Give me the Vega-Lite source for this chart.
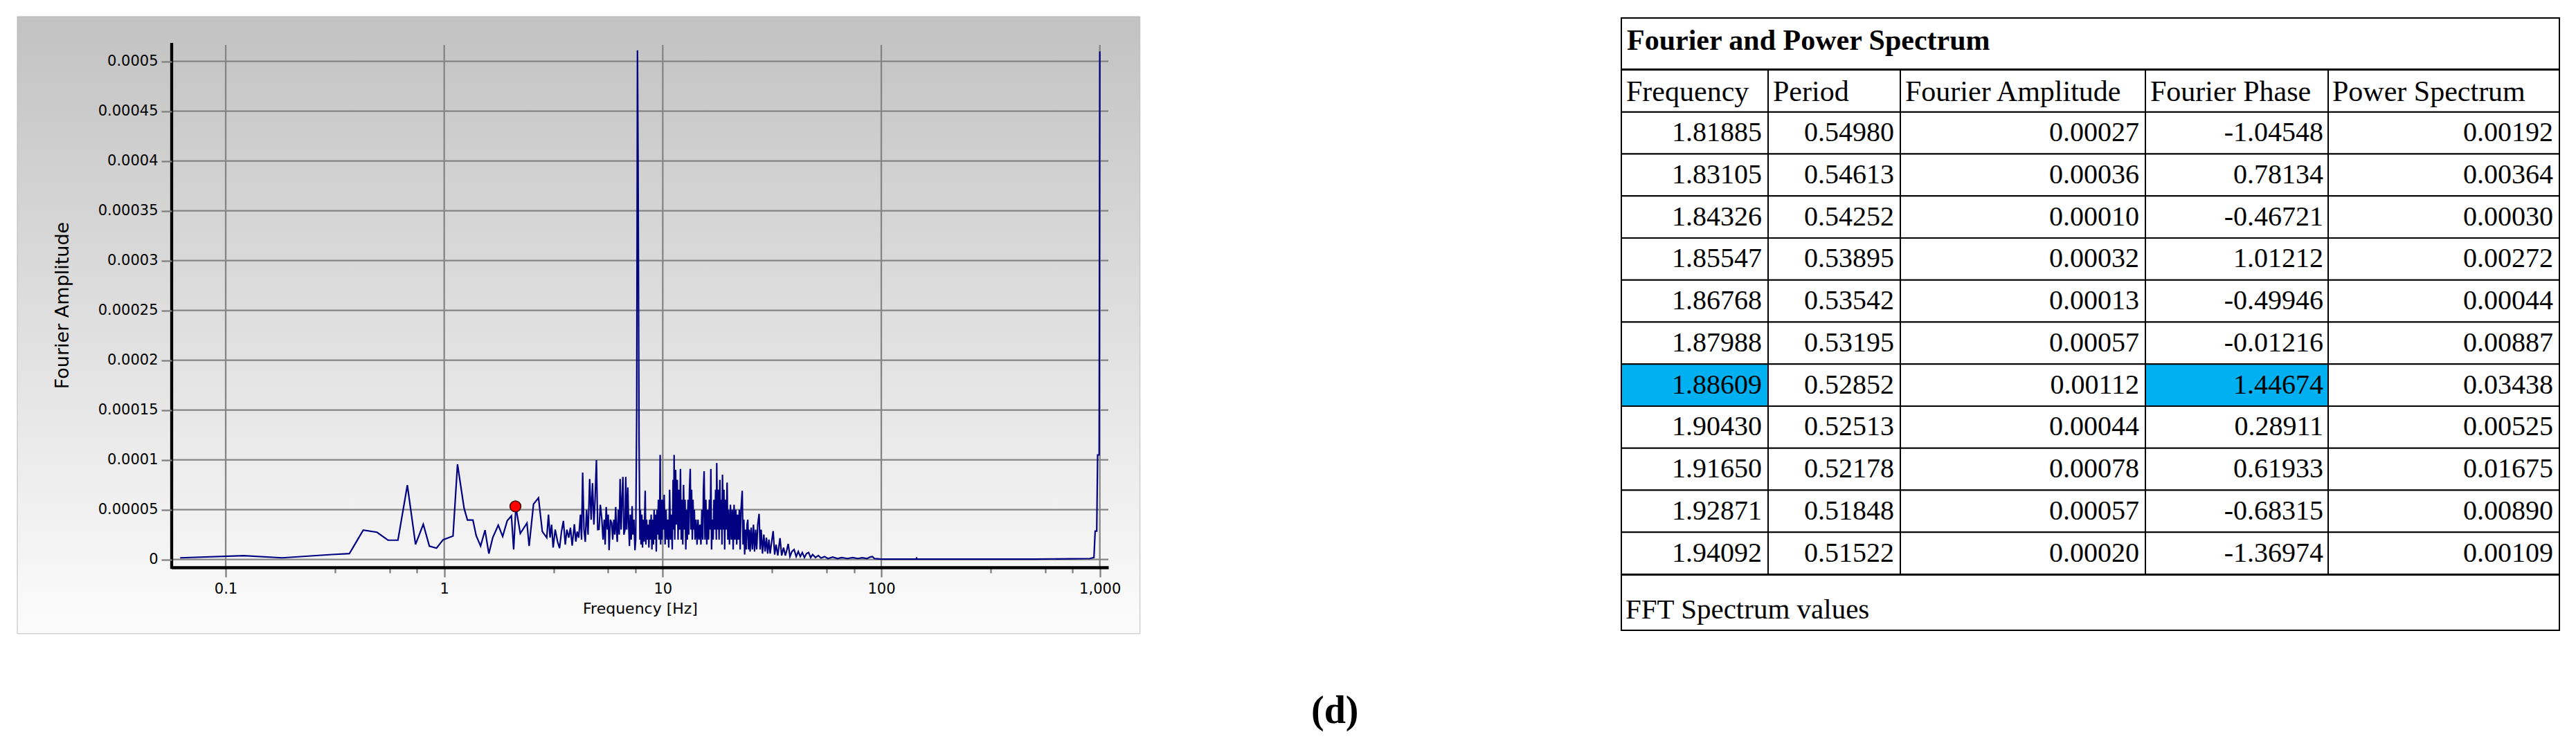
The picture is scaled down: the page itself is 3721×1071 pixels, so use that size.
{
  "$schema": "https://vega.github.io/schema/vega-lite/v6.json",
  "padding": {"left": 24, "top": 23, "right": 5, "bottom": 5},
  "background": "white",
  "config": {"view": {"stroke": null}, "locale": {"number": {"decimal": ".", "thousands": ",", "grouping": [3], "currency": ["$", ""], "minus": "-"}}},
  "title": {"text": "(d)", "orient": "bottom", "anchor": "middle", "font": "Liberation Serif", "fontSize": 56, "fontWeight": "bold", "color": "black", "offset": 85, "dx": 67},
  "datasets": {
    "spec": [
      {"f":0.0619,"a":0.0000017},{"f":0.121,"a":0.0000038},{"f":0.181,"a":0.0000017},{"f":0.306,"a":0.000005},{"f":0.368,"a":0.0000059},
      {"f":0.426,"a":0.0000295},{"f":0.492,"a":0.0000274},{"f":0.553,"a":0.0000194},{"f":0.614,"a":0.0000194},{"f":0.678,"a":0.0000746},
      {"f":0.739,"a":0.0000152},{"f":0.802,"a":0.0000354},{"f":0.855,"a":0.0000135},{"f":0.922,"a":0.0000114},{"f":0.988,"a":0.0000198},
      {"f":1.097,"a":0.0000236},{"f":1.15,"a":0.0000956},{"f":1.233,"a":0.0000514},{"f":1.277,"a":0.0000396},{"f":1.353,"a":0.0000396},
      {"f":1.40,"a":0.000024},{"f":1.467,"a":0.0000135},{"f":1.537,"a":0.0000295},{"f":1.60,"a":0.0000059},{"f":1.667,"a":0.0000219},
      {"f":1.767,"a":0.0000345},{"f":1.851,"a":0.0000232},{"f":1.941,"a":0.0000388},{"f":2.03,"a":0.0000438},{"f":2.078,"a":0.0000101},
      {"f":2.127,"a":0.0000527},{"f":2.229,"a":0.0000261},{"f":2.391,"a":0.0000366},{"f":2.446,"a":0.0000135},{"f":2.562,"a":0.0000556},
      {"f":2.70,"a":0.0000619},{"f":2.81,"a":0.0000282},{"f":2.945,"a":0.0000219},
      {"f":3.00,"a":0.000045},{"f":3.05,"a":0.000022},{"f":3.10,"a":0.000035},{"f":3.15,"a":0.000012},{"f":3.22,"a":0.00003},
      {"f":3.30,"a":0.000018},{"f":3.37,"a":0.0000114},{"f":3.44,"a":0.000028},{"f":3.51,"a":0.0000388},{"f":3.58,"a":0.000015},
      {"f":3.64,"a":0.00003},{"f":3.715,"a":0.0000219},{"f":3.78,"a":0.000032},{"f":3.85,"a":0.000014},{"f":3.94,"a":0.0000354},
      {"f":4.00,"a":0.000018},{"f":4.06,"a":0.000028},{"f":4.125,"a":0.0000219},{"f":4.20,"a":0.000045},{"f":4.25,"a":0.00002},
      {"f":4.30,"a":0.0000872},{"f":4.36,"a":0.00003},{"f":4.42,"a":0.0000177},{"f":4.48,"a":0.00005},{"f":4.55,"a":0.000025},
      {"f":4.63,"a":0.0000809},{"f":4.70,"a":0.00004},{"f":4.77,"a":0.0000767},{"f":4.84,"a":0.000035},{"f":4.90,"a":0.00006},
      {"f":4.97,"a":0.0000998},{"f":5.04,"a":0.00003},{"f":5.11,"a":0.0000303},{"f":5.18,"a":0.000055},{"f":5.26,"a":0.0000409},
      {"f":5.33,"a":0.00002},{"f":5.40,"a":0.00004},{"f":5.45,"a":0.000015},{"f":5.51,"a":0.0000527},{"f":5.58,"a":0.00003},
      {"f":5.63,"a":0.000045},{"f":5.68,"a":0.0000093},{"f":5.76,"a":0.00004},{"f":5.84,"a":0.0000366},{"f":5.90,"a":0.00002},
      {"f":5.97,"a":0.00004},{"f":6.03,"a":0.000025},{"f":6.09,"a":0.0000527},{"f":6.14,"a":0.00003},{"f":6.19,"a":0.0000177},
      {"f":6.26,"a":0.00005},{"f":6.32,"a":0.000025},{"f":6.38,"a":0.0000809},{"f":6.45,"a":0.00003},{"f":6.51,"a":0.00006},
      {"f":6.57,"a":0.000083},{"f":6.64,"a":0.000025},{"f":6.72,"a":0.0000303},{"f":6.77,"a":0.0000829},{"f":6.84,"a":0.00003},
      {"f":6.92,"a":0.0000724},{"f":6.98,"a":0.000035},{"f":7.04,"a":0.0000135},{"f":7.10,"a":0.000045},{"f":7.17,"a":0.00002},
      {"f":7.24,"a":0.0000535},{"f":7.30,"a":0.000025},{"f":7.38,"a":0.00004},{"f":7.46,"a":0.0000093},{"f":7.52,"a":0.00002},
      {"f":7.60,"a":0.00015},{"f":7.66,"a":0.000511},{"f":7.71,"a":0.0004},{"f":7.79,"a":0.00012},{"f":7.86,"a":0.00002},
      {"f":7.90,"a":0.00005},{"f":7.95,"a":0.000015},{"f":8.02,"a":0.000045},{"f":8.08,"a":0.000012},{"f":8.15,"a":0.00004},
      {"f":8.22,"a":0.000018},{"f":8.31,"a":0.000069},{"f":8.37,"a":0.000015},{"f":8.44,"a":0.00004},{"f":8.50,"a":0.00002},
      {"f":8.57,"a":0.000035},{"f":8.64,"a":0.000012},{"f":8.71,"a":0.00004},{"f":8.78,"a":0.00002},{"f":8.85,"a":0.000045},
      {"f":8.92,"a":0.00001},{"f":8.99,"a":0.00004},{"f":9.06,"a":0.000015},{"f":9.13,"a":0.00005},{"f":9.20,"a":0.00002},
      {"f":9.27,"a":0.000045},{"f":9.34,"a":0.000008},{"f":9.41,"a":0.00005},{"f":9.48,"a":0.000025},{"f":9.55,"a":0.00006},
      {"f":9.62,"a":0.00002},{"f":9.69,"a":0.00006},{"f":9.73,"a":0.000105},{"f":9.78,"a":0.000015},{"f":9.85,"a":0.00006},
      {"f":9.92,"a":0.00002},{"f":9.98,"a":0.00006},
      {"f":10.05,"a":0.00003},{"f":10.15,"a":0.000065},{"f":10.25,"a":0.000015},{"f":10.35,"a":0.00005},{"f":10.45,"a":0.00002},
      {"f":10.55,"a":0.00004},{"f":10.65,"a":0.000012},{"f":10.75,"a":0.00007},{"f":10.85,"a":0.00002},{"f":10.95,"a":0.000045},
      {"f":11.05,"a":0.00001},{"f":11.15,"a":0.00008},{"f":11.22,"a":0.00003},{"f":11.27,"a":0.000105},{"f":11.35,"a":0.00002},
      {"f":11.45,"a":0.00009},{"f":11.55,"a":0.000035},{"f":11.65,"a":0.00008},{"f":11.75,"a":0.00002},{"f":11.85,"a":0.00007},
      {"f":11.95,"a":0.00003},{"f":12.05,"a":0.000091},{"f":12.15,"a":0.00002},{"f":12.25,"a":0.00006},{"f":12.35,"a":0.000015},
      {"f":12.45,"a":0.000075},{"f":12.55,"a":0.00003},{"f":12.65,"a":0.00006},{"f":12.75,"a":0.00001},{"f":12.85,"a":0.00005},
      {"f":12.95,"a":0.00002},{"f":13.05,"a":0.00006},{"f":13.15,"a":0.000025},{"f":13.25,"a":0.00007},{"f":13.36,"a":0.000091},
      {"f":13.45,"a":0.00003},{"f":13.55,"a":0.00007},{"f":13.65,"a":0.00002},{"f":13.75,"a":0.00006},{"f":13.85,"a":0.00003},
      {"f":13.95,"a":0.00005},{"f":14.05,"a":0.00002},{"f":14.20,"a":0.00004},{"f":14.35,"a":0.000015},{"f":14.50,"a":0.00004},
      {"f":14.65,"a":0.00002},{"f":14.80,"a":0.000035},{"f":14.95,"a":0.000015},{"f":15.10,"a":0.00005},{"f":15.25,"a":0.00002},
      {"f":15.35,"a":0.00007},{"f":15.46,"a":0.0000887},{"f":15.60,"a":0.00002},{"f":15.75,"a":0.00006},{"f":15.90,"a":0.000015},
      {"f":16.05,"a":0.00005},{"f":16.20,"a":0.00002},{"f":16.35,"a":0.00006},{"f":16.50,"a":0.00003},{"f":16.60,"a":0.000091},
      {"f":16.72,"a":0.00001},{"f":16.85,"a":0.00004},{"f":17.00,"a":0.00002},{"f":17.15,"a":0.00006},{"f":17.30,"a":0.00003},
      {"f":17.45,"a":0.00007},{"f":17.58,"a":0.00002},{"f":17.66,"a":0.0000968},{"f":17.80,"a":0.00003},{"f":17.95,"a":0.00007},
      {"f":18.10,"a":0.00002},{"f":18.25,"a":0.00008},{"f":18.40,"a":0.00003},{"f":18.55,"a":0.00006},{"f":18.66,"a":0.000015},
      {"f":18.76,"a":0.0000852},{"f":18.90,"a":0.00003},{"f":19.05,"a":0.00007},{"f":19.20,"a":0.00001},{"f":19.35,"a":0.00006},
      {"f":19.50,"a":0.00003},{"f":19.70,"a":0.0000772},{"f":19.85,"a":0.00002},
      {"f":20.0,"a":0.00005},{"f":20.2,"a":0.000015},{"f":20.4,"a":0.000055},{"f":20.6,"a":0.00002},{"f":20.8,"a":0.00005},
      {"f":21.0,"a":0.00001},{"f":21.2,"a":0.000055},{"f":21.4,"a":0.00002},{"f":21.6,"a":0.00005},{"f":21.8,"a":0.000015},
      {"f":22.0,"a":0.000045},{"f":22.2,"a":0.00002},{"f":22.4,"a":0.00005},{"f":22.6,"a":0.00001},{"f":22.8,"a":0.00005},
      {"f":23.1,"a":0.000069},{"f":23.3,"a":0.000015},{"f":23.5,"a":0.00004},{"f":23.7,"a":0.000005},{"f":23.9,"a":0.00003},
      {"f":24.1,"a":0.00001},{"f":24.3,"a":0.000035},{"f":24.5,"a":0.00004},{"f":24.7,"a":0.00001},{"f":24.9,"a":0.00003},
      {"f":25.1,"a":0.000008},{"f":25.4,"a":0.000032},{"f":25.7,"a":0.00001},{"f":26.0,"a":0.000035},{"f":26.3,"a":0.000008},
      {"f":26.6,"a":0.00003},{"f":26.9,"a":0.00001},{"f":27.2,"a":0.000035},{"f":27.6,"a":0.0000458},{"f":27.9,"a":0.00001},
      {"f":28.2,"a":0.00003},{"f":28.6,"a":0.000006},{"f":29.0,"a":0.000025},{"f":29.4,"a":0.000008},{"f":29.8,"a":0.000022},
      {"f":30.2,"a":0.000006},{"f":30.6,"a":0.00002},{"f":31.0,"a":0.000006},{"f":31.5,"a":0.000018},{"f":32.0,"a":0.0000285},
      {"f":32.5,"a":0.000005},{"f":33.0,"a":0.000015},{"f":33.6,"a":0.000004},{"f":34.4,"a":0.0000215},{"f":35.0,"a":0.000004},
      {"f":35.7,"a":0.000012},{"f":36.4,"a":0.000004},{"f":37.0,"a":0.00001},{"f":37.5,"a":0.0000157},{"f":38.2,"a":0.000003},
      {"f":39.0,"a":0.000008},{"f":39.9,"a":0.00001},{"f":40.8,"a":0.000003},{"f":41.7,"a":0.000008},{"f":42.6,"a":0.000003},
      {"f":43.5,"a":0.000007},{"f":44.5,"a":0.000002},{"f":45.5,"a":0.000006},{"f":46.5,"a":0.000007},{"f":47.5,"a":0.000002},
      {"f":48.5,"a":0.000005},{"f":50,"a":0.000002},{"f":51.5,"a":0.000004},{"f":53,"a":0.0000015},{"f":55,"a":0.000003},
      {"f":57,"a":0.000001},{"f":60,"a":0.0000025},{"f":63,"a":0.000001},{"f":66,"a":0.000002},{"f":70,"a":0.000001},
      {"f":74,"a":0.000002},{"f":78,"a":0.000001},{"f":82,"a":0.0000018},{"f":86,"a":0.000001},{"f":89,"a":0.0000025},
      {"f":91,"a":0.000003},{"f":93,"a":0.000001},{"f":96,"a":0.0000008},{"f":100,"a":0.0000004},
      {"f":144,"a":0.0000004},{"f":145,"a":0.0000015},{"f":146,"a":0.0000004},{"f":500,"a":0.0000004},
      {"f":900,"a":0.000001},{"f":940,"a":0.000002},{"f":952,"a":0.0000285},{"f":968,"a":0.0000285},{"f":977,"a":0.000105},
      {"f":993,"a":0.000105},{"f":1000,"a":0.00051}
    ],
    "tbl": [
      {"Frequency":1.81885,"Period":0.5498,"Amplitude":0.00027,"Phase":-1.04548,"Power":0.00192},
      {"Frequency":1.83105,"Period":0.54613,"Amplitude":0.00036,"Phase":0.78134,"Power":0.00364},
      {"Frequency":1.84326,"Period":0.54252,"Amplitude":0.0001,"Phase":-0.46721,"Power":0.0003},
      {"Frequency":1.85547,"Period":0.53895,"Amplitude":0.00032,"Phase":1.01212,"Power":0.00272},
      {"Frequency":1.86768,"Period":0.53542,"Amplitude":0.00013,"Phase":-0.49946,"Power":0.00044},
      {"Frequency":1.87988,"Period":0.53195,"Amplitude":0.00057,"Phase":-0.01216,"Power":0.00887},
      {"Frequency":1.88609,"Period":0.52852,"Amplitude":0.00112,"Phase":1.44674,"Power":0.03438},
      {"Frequency":1.9043,"Period":0.52513,"Amplitude":0.00044,"Phase":0.28911,"Power":0.00525},
      {"Frequency":1.9165,"Period":0.52178,"Amplitude":0.00078,"Phase":0.61933,"Power":0.01675},
      {"Frequency":1.92871,"Period":0.51848,"Amplitude":0.00057,"Phase":-0.68315,"Power":0.0089},
      {"Frequency":1.94092,"Period":0.51522,"Amplitude":0.0002,"Phase":-1.36974,"Power":0.00109}
    ]
  },
  "hconcat": [
    {
      "width": 1353,
      "height": 794,
      "layer": [
        {
          "data": {"values": [{}]},
          "mark": {"type": "rect", "clip": false, "stroke": "#bcbcbc", "strokeWidth": 1,
            "fill": {"gradient": "linear", "x1": 0, "y1": 0, "x2": 0, "y2": 1, "stops": [{"offset": 0, "color": "#c2c2c2"}, {"offset": 1, "color": "#fcfcfc"}]}},
          "encoding": {
            "x": {"datum": 0.011126, "type": "quantitative", "scale": {"type": "log", "domain": [0.0566, 1094], "nice": false},
              "axis": {"title": "Frequency [Hz]", "zindex": 1,
                "values": [0.1,0.3162,0.5623,0.7499,1,3.162,5.623,7.499,10,31.62,56.23,74.99,100,316.2,562.3,749.9,1000],
                "labelExpr": "indexof([0.1,1,10,100,1000], datum.value) >= 0 ? format(datum.value, ',~g') : ''",
                "grid": false, "domain": true, "domainColor": "black", "domainWidth": 4.3,
                "tickColor": "#808080", "tickWidth": 2.3,
                "tickSize": {"condition": {"test": "indexof([0.1,1,10,100,1000], datum.value) >= 0", "value": 14}, "value": 8},
                "labelFont": "DejaVu Sans", "labelFontSize": 21, "labelColor": "black", "labelPadding": 6,
                "labelOverlap": false, "labelFlush": false, "labelBound": false,
                "titleFont": "DejaVu Sans", "titleFontSize": 22, "titleFontWeight": "normal", "titleColor": "black", "titlePadding": 8}},
            "x2": {"datum": 1527},
            "y": {"datum": 0.0005449, "type": "quantitative", "scale": {"domain": [-0.00000785, 0.0005435], "nice": false, "zero": false},
              "axis": {"title": "Fourier Amplitude", "zindex": 1,
                "values": [0,0.0000125,0.000025,0.0000375,0.00005,0.0000625,0.000075,0.0000875,0.0001,0.0001125,0.000125,0.0001375,0.00015,0.0001625,0.000175,0.0001875,0.0002,0.0002125,0.000225,0.0002375,0.00025,0.0002625,0.000275,0.0002875,0.0003,0.0003125,0.000325,0.0003375,0.00035,0.0003625,0.000375,0.0003875,0.0004,0.0004125,0.000425,0.0004375,0.00045,0.0004625,0.000475,0.0004875,0.0005,0.0005125],
                "labelExpr": "abs(datum.value/0.00005 - round(datum.value/0.00005)) < 0.001 ? format(datum.value, '.5~f') : ''",
                "grid": false, "domain": false,
                "tickColor": "#808080", "tickWidth": 2.3,
                "tickSize": {"condition": {"test": "abs(datum.value/0.00005 - round(datum.value/0.00005)) < 0.001", "value": 15}, "value": 8},
                "labelFont": "DejaVu Sans", "labelFontSize": 21, "labelColor": "black", "labelPadding": 5,
                "labelOverlap": false, "labelFlush": false, "labelBound": false,
                "titleFont": "DejaVu Sans", "titleFontSize": 27, "titleFontWeight": "normal", "titleColor": "black",
                "titleX": -158, "titleY": 415, "titleBaseline": "middle", "titleAngle": 270}},
            "y2": {"datum": -0.00007444}
          }
        },
        {
          "data": {"values": [{"v":0},{"v":0.00005},{"v":0.0001},{"v":0.00015},{"v":0.0002},{"v":0.00025},{"v":0.0003},{"v":0.00035},{"v":0.0004},{"v":0.00045},{"v":0.0005}]},
          "mark": {"type": "rule", "color": "#858585", "strokeWidth": 2.3, "clip": false},
          "encoding": {
            "y": {"field": "v", "type": "quantitative"},
            "x": {"datum": 0.0566, "type": "quantitative"},
            "x2": {"datum": 1094}
          }
        },
        {
          "data": {"values": [{"g":0.1},{"g":1},{"g":10},{"g":100},{"g":1000}]},
          "mark": {"type": "rule", "color": "#858585", "strokeWidth": 2.3, "clip": false},
          "encoding": {
            "x": {"field": "g", "type": "quantitative"},
            "y": {"datum": -0.00000785, "type": "quantitative"},
            "y2": {"datum": 0.0005165}
          }
        },
        {
          "data": {"values": [{}]},
          "mark": {"type": "rule", "color": "black", "strokeWidth": 4.3, "clip": false},
          "encoding": {
            "x": {"datum": 0.0566, "type": "quantitative"},
            "y": {"datum": -0.0000094, "type": "quantitative"},
            "y2": {"datum": 0.0005185}
          }
        },
        {
          "data": {"name": "spec"},
          "mark": {"type": "line", "color": "#000080", "strokeWidth": 2.2, "clip": false},
          "encoding": {
            "x": {"field": "f", "type": "quantitative"},
            "y": {"field": "a", "type": "quantitative"}
          }
        },
        {
          "data": {"values": [{"f": 2.117, "a": 0.0000533}]},
          "mark": {"type": "point", "filled": true, "fill": "#ff0000", "stroke": "#3a0000", "strokeWidth": 1.5, "opacity": 1, "size": 250, "clip": false},
          "encoding": {
            "x": {"field": "f", "type": "quantitative"},
            "y": {"field": "a", "type": "quantitative"}
          }
        }
      ]
    },
    {
      "vconcat": [
        {
          "width": 1355, "height": 74,
          "view": {"stroke": "black", "strokeWidth": 2},
          "data": {"values": [{"t": "Fourier and Power Spectrum"}]},
          "mark": {"type": "text", "align": "left", "baseline": "alphabetic", "font": "Liberation Serif", "fontSize": 42, "fontWeight": "bold", "color": "black"},
          "encoding": {"x": {"value": 8}, "y": {"value": 46}, "text": {"field": "t"}}
        },
        {
          "hconcat": [
            {
              "width": 212, "height": 729,
              "layer": [
                {"data": {"name": "tbl"}, "mark": {"type": "rect", "stroke": "black", "strokeWidth": 2},
                 "encoding": {"x": {"value": 0}, "x2": {"value": "width"},
                   "y": {"field": "Frequency", "type": "ordinal", "scale": {"domain": ["hdr",1.81885,1.83105,1.84326,1.85547,1.86768,1.87988,1.88609,1.9043,1.9165,1.92871,1.94092], "paddingInner": 0, "paddingOuter": 0}, "axis": null},
                   "fill": {"condition": {"test": "datum.Frequency == 1.88609", "value": "#00b0f0"}, "value": "white"}}},
                {"data": {"values": [{"h": "Frequency"}]}, "mark": {"type": "rect", "stroke": "black", "strokeWidth": 2, "fill": "white"},
                 "encoding": {"x": {"value": 0}, "x2": {"value": "width"}, "y": {"datum": "hdr", "type": "ordinal"}}},
                {"data": {"values": [{"h": "Frequency"}]}, "mark": {"type": "text", "align": "left", "baseline": "alphabetic", "dx": 7, "dy": 14.5, "font": "Liberation Serif", "fontSize": 42, "color": "black"},
                 "encoding": {"x": {"value": 0}, "y": {"datum": "hdr", "type": "ordinal"}, "text": {"field": "h"}}},
                {"data": {"name": "tbl"}, "mark": {"type": "text", "align": "right", "baseline": "alphabetic", "dx": -9, "dy": 12, "font": "Liberation Serif", "fontSize": 40, "color": "black"},
                 "encoding": {"x": {"value": "width"}, "y": {"field": "Frequency", "type": "ordinal"}, "text": {"field": "Frequency", "format": ".5f"}}}
              ]
            },
            {
              "width": 191, "height": 729,
              "layer": [
                {"data": {"name": "tbl"}, "mark": {"type": "rect", "stroke": "black", "strokeWidth": 2, "fill": "white"},
                 "encoding": {"x": {"value": 0}, "x2": {"value": "width"},
                   "y": {"field": "Frequency", "type": "ordinal", "scale": {"domain": ["hdr",1.81885,1.83105,1.84326,1.85547,1.86768,1.87988,1.88609,1.9043,1.9165,1.92871,1.94092], "paddingInner": 0, "paddingOuter": 0}, "axis": null}}},
                {"data": {"values": [{"h": "Period"}]}, "mark": {"type": "rect", "stroke": "black", "strokeWidth": 2, "fill": "white"},
                 "encoding": {"x": {"value": 0}, "x2": {"value": "width"}, "y": {"datum": "hdr", "type": "ordinal"}}},
                {"data": {"values": [{"h": "Period"}]}, "mark": {"type": "text", "align": "left", "baseline": "alphabetic", "dx": 7, "dy": 14.5, "font": "Liberation Serif", "fontSize": 42, "color": "black"},
                 "encoding": {"x": {"value": 0}, "y": {"datum": "hdr", "type": "ordinal"}, "text": {"field": "h"}}},
                {"data": {"name": "tbl"}, "mark": {"type": "text", "align": "right", "baseline": "alphabetic", "dx": -9, "dy": 12, "font": "Liberation Serif", "fontSize": 40, "color": "black"},
                 "encoding": {"x": {"value": "width"}, "y": {"field": "Frequency", "type": "ordinal"}, "text": {"field": "Period", "format": ".5f"}}}
              ]
            },
            {
              "width": 354, "height": 729,
              "layer": [
                {"data": {"name": "tbl"}, "mark": {"type": "rect", "stroke": "black", "strokeWidth": 2, "fill": "white"},
                 "encoding": {"x": {"value": 0}, "x2": {"value": "width"},
                   "y": {"field": "Frequency", "type": "ordinal", "scale": {"domain": ["hdr",1.81885,1.83105,1.84326,1.85547,1.86768,1.87988,1.88609,1.9043,1.9165,1.92871,1.94092], "paddingInner": 0, "paddingOuter": 0}, "axis": null}}},
                {"data": {"values": [{"h": "Fourier Amplitude"}]}, "mark": {"type": "rect", "stroke": "black", "strokeWidth": 2, "fill": "white"},
                 "encoding": {"x": {"value": 0}, "x2": {"value": "width"}, "y": {"datum": "hdr", "type": "ordinal"}}},
                {"data": {"values": [{"h": "Fourier Amplitude"}]}, "mark": {"type": "text", "align": "left", "baseline": "alphabetic", "dx": 7, "dy": 14.5, "font": "Liberation Serif", "fontSize": 42, "color": "black"},
                 "encoding": {"x": {"value": 0}, "y": {"datum": "hdr", "type": "ordinal"}, "text": {"field": "h"}}},
                {"data": {"name": "tbl"}, "mark": {"type": "text", "align": "right", "baseline": "alphabetic", "dx": -9, "dy": 12, "font": "Liberation Serif", "fontSize": 40, "color": "black"},
                 "encoding": {"x": {"value": "width"}, "y": {"field": "Frequency", "type": "ordinal"}, "text": {"field": "Amplitude", "format": ".5f"}}}
              ]
            },
            {
              "width": 264, "height": 729,
              "layer": [
                {"data": {"name": "tbl"}, "mark": {"type": "rect", "stroke": "black", "strokeWidth": 2},
                 "encoding": {"x": {"value": 0}, "x2": {"value": "width"},
                   "y": {"field": "Frequency", "type": "ordinal", "scale": {"domain": ["hdr",1.81885,1.83105,1.84326,1.85547,1.86768,1.87988,1.88609,1.9043,1.9165,1.92871,1.94092], "paddingInner": 0, "paddingOuter": 0}, "axis": null},
                   "fill": {"condition": {"test": "datum.Frequency == 1.88609", "value": "#00b0f0"}, "value": "white"}}},
                {"data": {"values": [{"h": "Fourier Phase"}]}, "mark": {"type": "rect", "stroke": "black", "strokeWidth": 2, "fill": "white"},
                 "encoding": {"x": {"value": 0}, "x2": {"value": "width"}, "y": {"datum": "hdr", "type": "ordinal"}}},
                {"data": {"values": [{"h": "Fourier Phase"}]}, "mark": {"type": "text", "align": "left", "baseline": "alphabetic", "dx": 7, "dy": 14.5, "font": "Liberation Serif", "fontSize": 42, "color": "black"},
                 "encoding": {"x": {"value": 0}, "y": {"datum": "hdr", "type": "ordinal"}, "text": {"field": "h"}}},
                {"data": {"name": "tbl"}, "mark": {"type": "text", "align": "right", "baseline": "alphabetic", "dx": -7, "dy": 12, "font": "Liberation Serif", "fontSize": 40, "color": "black"},
                 "encoding": {"x": {"value": "width"}, "y": {"field": "Frequency", "type": "ordinal"}, "text": {"field": "Phase", "format": ".5f"}}}
              ]
            },
            {
              "width": 334, "height": 729,
              "layer": [
                {"data": {"name": "tbl"}, "mark": {"type": "rect", "stroke": "black", "strokeWidth": 2, "fill": "white"},
                 "encoding": {"x": {"value": 0}, "x2": {"value": "width"},
                   "y": {"field": "Frequency", "type": "ordinal", "scale": {"domain": ["hdr",1.81885,1.83105,1.84326,1.85547,1.86768,1.87988,1.88609,1.9043,1.9165,1.92871,1.94092], "paddingInner": 0, "paddingOuter": 0}, "axis": null}}},
                {"data": {"values": [{"h": "Power Spectrum"}]}, "mark": {"type": "rect", "stroke": "black", "strokeWidth": 2, "fill": "white"},
                 "encoding": {"x": {"value": 0}, "x2": {"value": "width"}, "y": {"datum": "hdr", "type": "ordinal"}}},
                {"data": {"values": [{"h": "Power Spectrum"}]}, "mark": {"type": "text", "align": "left", "baseline": "alphabetic", "dx": 6, "dy": 14.5, "font": "Liberation Serif", "fontSize": 42, "color": "black"},
                 "encoding": {"x": {"value": 0}, "y": {"datum": "hdr", "type": "ordinal"}, "text": {"field": "h"}}},
                {"data": {"name": "tbl"}, "mark": {"type": "text", "align": "right", "baseline": "alphabetic", "dx": -9, "dy": 12, "font": "Liberation Serif", "fontSize": 40, "color": "black"},
                 "encoding": {"x": {"value": "width"}, "y": {"field": "Frequency", "type": "ordinal"}, "text": {"field": "Power", "format": ".5f"}}}
              ]
            }
          ],
          "spacing": 0,
          "bounds": "flush"
        },
        {
          "width": 1355, "height": 80,
          "view": {"stroke": "black", "strokeWidth": 2},
          "data": {"values": [{"t": "FFT Spectrum values"}]},
          "mark": {"type": "text", "align": "left", "baseline": "alphabetic", "font": "Liberation Serif", "fontSize": 41, "color": "black"},
          "encoding": {"x": {"value": 6}, "y": {"value": 63}, "text": {"field": "t"}}
        }
      ],
      "spacing": -2
    }
  ],
  "spacing": 693
}
